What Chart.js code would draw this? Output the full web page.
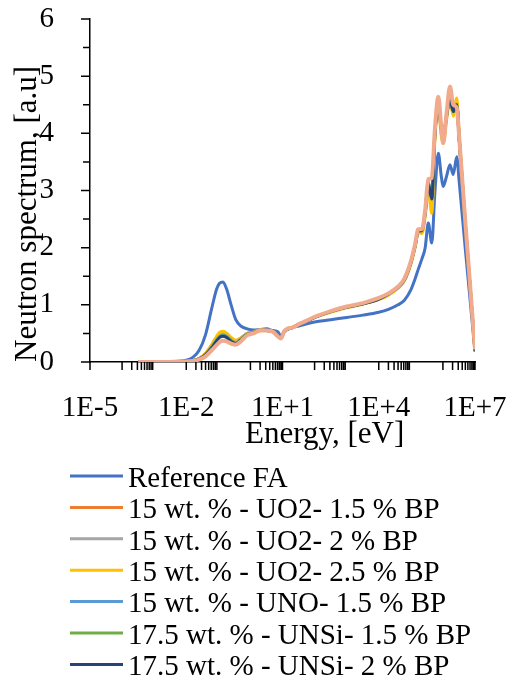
<!DOCTYPE html>
<html>
<head>
<meta charset="utf-8">
<title>Neutron spectrum</title>
<script src="https://cdn.jsdelivr.net/npm/chart.js"></script>
<style>
    body { margin: 0; background: #fff; }
    canvas { display: block; }
</style>
</head>
<body>
<canvas id="chart" width="511" height="682"></canvas>

<script>
// energy grid [eV]
const energies = [3.2e-4, 1e-3, 3.2e-3, 1e-2, 1.6e-2, 2.5e-2, 4e-2, 6.3e-2, 8.9e-2, 0.11, 0.14, 0.18, 0.25, 0.35, 0.5, 0.8, 1.26, 2, 3.2, 5, 7.1, 8.9, 11.2, 14, 20, 32, 50, 100, 320, 1e3, 3.2e3, 1e4, 2e4, 4e4, 6.3e4, 1e5, 1.35e5, 1.7e5, 2.2e5, 2.8e5, 3.5e5, 4.5e5, 5.6e5, 7.2e5, 8.9e5, 1.02e6, 1.3e6, 1.66e6, 2.1e6, 2.7e6, 3.2e6, 5e6, 1e7];

const refFA = [0, 0.002, 0.008, 0.03, 0.08, 0.2, 0.48, 0.95, 1.28, 1.38, 1.40, 1.28, 1.0, 0.74, 0.63, 0.58, 0.56, 0.57, 0.58, 0.55, 0.53, 0.46, 0.52, 0.57, 0.6, 0.63, 0.66, 0.70, 0.74, 0.78, 0.82, 0.87, 0.92, 1.0, 1.08, 1.26, 1.45, 1.62, 1.8, 2.0, 2.43, 2.08, 2.95, 3.65, 3.25, 3.07, 3.25, 3.45, 3.28, 3.59, 3.17, 1.97, 0.18];
const uo2_15 = [0, 0.001, 0.003, 0.01, 0.025, 0.06, 0.15, 0.3, 0.44, 0.51, 0.53, 0.5, 0.42, 0.37, 0.42, 0.5, 0.52, 0.56, 0.55, 0.53, 0.46, 0.42, 0.53, 0.57, 0.6, 0.66, 0.7, 0.78, 0.88, 0.96, 1.02, 1.1, 1.18, 1.3, 1.43, 1.73, 2.02, 2.28, 2.27, 2.6, 3.1, 2.75, 3.95, 4.5, 4.05, 3.88, 4.3, 4.62, 4.35, 4.55, 3.95, 2.4, 0.2];
const uo2_2 = [0, 0.001, 0.003, 0.01, 0.024, 0.058, 0.145, 0.29, 0.43, 0.5, 0.52, 0.49, 0.41, 0.36, 0.41, 0.5, 0.52, 0.56, 0.55, 0.53, 0.46, 0.42, 0.53, 0.57, 0.6, 0.66, 0.7, 0.78, 0.88, 0.96, 1.02, 1.1, 1.18, 1.3, 1.43, 1.72, 2.01, 2.27, 2.27, 2.58, 3.08, 2.7, 3.93, 4.48, 4.0, 3.86, 4.28, 4.6, 4.33, 4.55, 3.95, 2.4, 0.2];
const uo2_25 = [0, 0.001, 0.003, 0.01, 0.026, 0.062, 0.155, 0.31, 0.45, 0.52, 0.54, 0.51, 0.43, 0.38, 0.42, 0.5, 0.52, 0.56, 0.55, 0.53, 0.46, 0.42, 0.53, 0.57, 0.6, 0.66, 0.7, 0.78, 0.87, 0.95, 1.01, 1.09, 1.17, 1.29, 1.42, 1.71, 2.0, 2.26, 2.25, 2.55, 3.0, 2.6, 3.88, 4.45, 3.95, 3.82, 4.25, 4.6, 4.3, 4.62, 4.0, 2.42, 0.2];
const uno_15 = [0, 0.001, 0.003, 0.009, 0.022, 0.053, 0.13, 0.27, 0.39, 0.45, 0.47, 0.45, 0.38, 0.34, 0.4, 0.49, 0.51, 0.55, 0.55, 0.53, 0.46, 0.42, 0.53, 0.57, 0.6, 0.66, 0.7, 0.78, 0.88, 0.96, 1.02, 1.1, 1.19, 1.31, 1.44, 1.74, 2.03, 2.29, 2.3, 2.62, 3.15, 2.9, 4.0, 4.5, 4.1, 3.95, 4.3, 4.6, 4.4, 4.5, 3.92, 2.38, 0.2];
const unsi_15 = [0, 0.001, 0.003, 0.009, 0.022, 0.052, 0.13, 0.26, 0.38, 0.44, 0.46, 0.44, 0.37, 0.33, 0.39, 0.49, 0.51, 0.55, 0.55, 0.53, 0.46, 0.42, 0.53, 0.57, 0.6, 0.66, 0.7, 0.78, 0.88, 0.96, 1.02, 1.1, 1.19, 1.31, 1.44, 1.74, 2.03, 2.29, 2.3, 2.62, 3.13, 2.85, 3.98, 4.5, 4.08, 3.93, 4.3, 4.58, 4.38, 4.5, 3.92, 2.38, 0.2];
const unsi_2 = [0, 0.001, 0.003, 0.009, 0.021, 0.05, 0.125, 0.25, 0.37, 0.43, 0.45, 0.43, 0.36, 0.32, 0.38, 0.48, 0.51, 0.55, 0.55, 0.53, 0.46, 0.42, 0.53, 0.57, 0.6, 0.66, 0.7, 0.78, 0.88, 0.96, 1.02, 1.1, 1.19, 1.31, 1.44, 1.74, 2.03, 2.29, 2.3, 2.62, 3.12, 2.85, 3.98, 4.52, 4.08, 3.92, 4.32, 4.6, 4.38, 4.5, 3.92, 2.38, 0.2];
// 8th series, drawn on top but cut off from the legend
const series8 = [0, 0.001, 0.002, 0.008, 0.018, 0.042, 0.1, 0.21, 0.3, 0.35, 0.37, 0.36, 0.32, 0.3, 0.36, 0.47, 0.5, 0.55, 0.55, 0.53, 0.45, 0.41, 0.53, 0.58, 0.6, 0.66, 0.71, 0.79, 0.89, 0.97, 1.03, 1.12, 1.2, 1.32, 1.46, 1.76, 2.05, 2.32, 2.32, 2.66, 3.2, 3.22, 4.06, 4.64, 4.1, 3.83, 4.35, 4.82, 4.5, 4.45, 3.95, 2.44, 0.22];

const seriesNames = ['Reference FA', '15 wt. % - UO2- 1.5 % BP', '15 wt. % - UO2- 2 % BP', '15 wt. % - UO2- 2.5 % BP',
    '15 wt. % - UNO- 1.5 % BP', '17.5 wt. % - UNSi- 1.5 % BP', '17.5 wt. % - UNSi- 2 % BP', ''];
const seriesValues = [refFA, uo2_15, uo2_2, uo2_25, uno_15, unsi_15, unsi_2, series8];
const seriesColors = ['#4472C4', '#ED7D31', '#A5A5A5', '#FFC000', '#5B9BD5', '#70AD47', '#264478', '#F2AA8C'];

const xTickValues = [1e-5, 1e-2, 1e1, 1e4, 1e7];
const xTickLabels = ['1E-5', '1E-2', '1E+1', '1E+4', '1E+7'];
const xTitle = 'Energy, [eV]';
const yTitle = 'Neutron spectrum, [a.u]';

const FONT = "'Liberation Serif'";

// tick marks like excel: majors + minor marks, outside the axes
const axisTicks = {
    id: 'axisTicks',
    beforeDatasetsDraw(chart) {
        const { ctx, scales: { x, y } } = chart;
        const left = x.left, bottom = y.bottom;
        ctx.save();
        ctx.strokeStyle = '#000';
        ctx.lineWidth = 1.5;
        ctx.beginPath();
        for (let v = 0; v <= 6; v += 0.5) {
            const py = y.getPixelForValue(v);
            const len = (v % 1 === 0) ? 9 : 7;
            ctx.moveTo(left - len, py);
            ctx.lineTo(left, py);
        }
        const marks = xTickValues.slice();
        for (let d = -4; d <= 6; d += 2) {
            for (let k = 1; k <= 9; k++) marks.push(k * Math.pow(10, d));
        }
        marks.forEach(v => {
            const px = x.getPixelForValue(v);
            ctx.moveTo(px, bottom);
            ctx.lineTo(px, bottom + 8);
        });
        ctx.stroke();
        ctx.restore();
    }
};

// x title sits right of centre and the legend is a plain list, excel style
const extraText = {
    id: 'extraText',
    afterDraw(chart) {
        const ctx = chart.ctx;
        ctx.save();
        ctx.fillStyle = '#000';
        ctx.textAlign = 'left';
        ctx.textBaseline = 'alphabetic';
        ctx.font = '31px ' + FONT;
        ctx.fillText(xTitle, 245, 443);
        ctx.font = '29px ' + FONT;
        for (let i = 0; i < 7; i++) {
            const base = 486.7 + i * 31.4;
            ctx.strokeStyle = seriesColors[i];
            ctx.lineWidth = 3;
            ctx.beginPath();
            ctx.moveTo(70, base - 10.7);
            ctx.lineTo(123, base - 10.7);
            ctx.stroke();
            ctx.fillText(seriesNames[i], 128, base);
        }
        ctx.restore();
    }
};

// keep label overflow from shrinking the plot area, layout padding does it
function noPad(s) {
    s.paddingTop = 0; s.paddingBottom = 0; s.paddingLeft = 0; s.paddingRight = 0;
}

const datasets = seriesValues.map((vals, i) => ({
    label: seriesNames[i],
    data: energies.map((e, j) => ({ x: e, y: vals[j] })),
    borderColor: seriesColors[i],
    borderWidth: i === 7 ? 4 : 3,
    pointRadius: 0,
    fill: false,
    order: 7 - i,
    cubicInterpolationMode: 'monotone'
}));

const chart = new Chart(document.getElementById('chart'), {
    type: 'line',
    data: { datasets: datasets },
    options: {
        responsive: false,
        animation: false,
        layout: { padding: { top: 19, right: 36, left: 0, bottom: 222 } },
        plugins: {
            legend: { display: false },
            tooltip: { enabled: false }
        },
        scales: {
            x: {
                type: 'logarithmic',
                min: 1e-5,
                max: 1e7,
                grid: { display: false },
                border: { display: true, color: '#000', width: 1.5 },
                afterBuildTicks: s => { s.ticks = xTickValues.map(v => ({ value: v })); },
                afterFit: s => { s.height = 98; noPad(s); },
                ticks: {
                    autoSkip: false,
                    maxRotation: 0,
                    minRotation: 0,
                    padding: 21,
                    color: '#000',
                    font: { family: FONT, size: 29 },
                    callback: (v) => xTickLabels[xTickValues.indexOf(v)] || ''
                }
            },
            y: {
                min: 0,
                max: 6,
                grid: { display: false },
                border: { display: true, color: '#000', width: 1.5 },
                afterFit: s => { s.width = 90; noPad(s); },
                ticks: {
                    stepSize: 1,
                    padding: 28,
                    color: '#000',
                    font: { family: FONT, size: 29 }
                },
                title: {
                    display: true,
                    text: yTitle,
                    align: 'start',
                    color: '#000',
                    font: { family: FONT, size: 31, weight: 'normal' },
                    padding: { top: 9, bottom: 0 }
                }
            }
        }
    },
    plugins: [axisTicks, extraText]
});

// redraw once the serif font is surely there
document.fonts.load('29px ' + FONT).then(() => chart.update()).catch(() => {});
document.fonts.ready.then(() => chart.update());
</script>
</body>
</html>
